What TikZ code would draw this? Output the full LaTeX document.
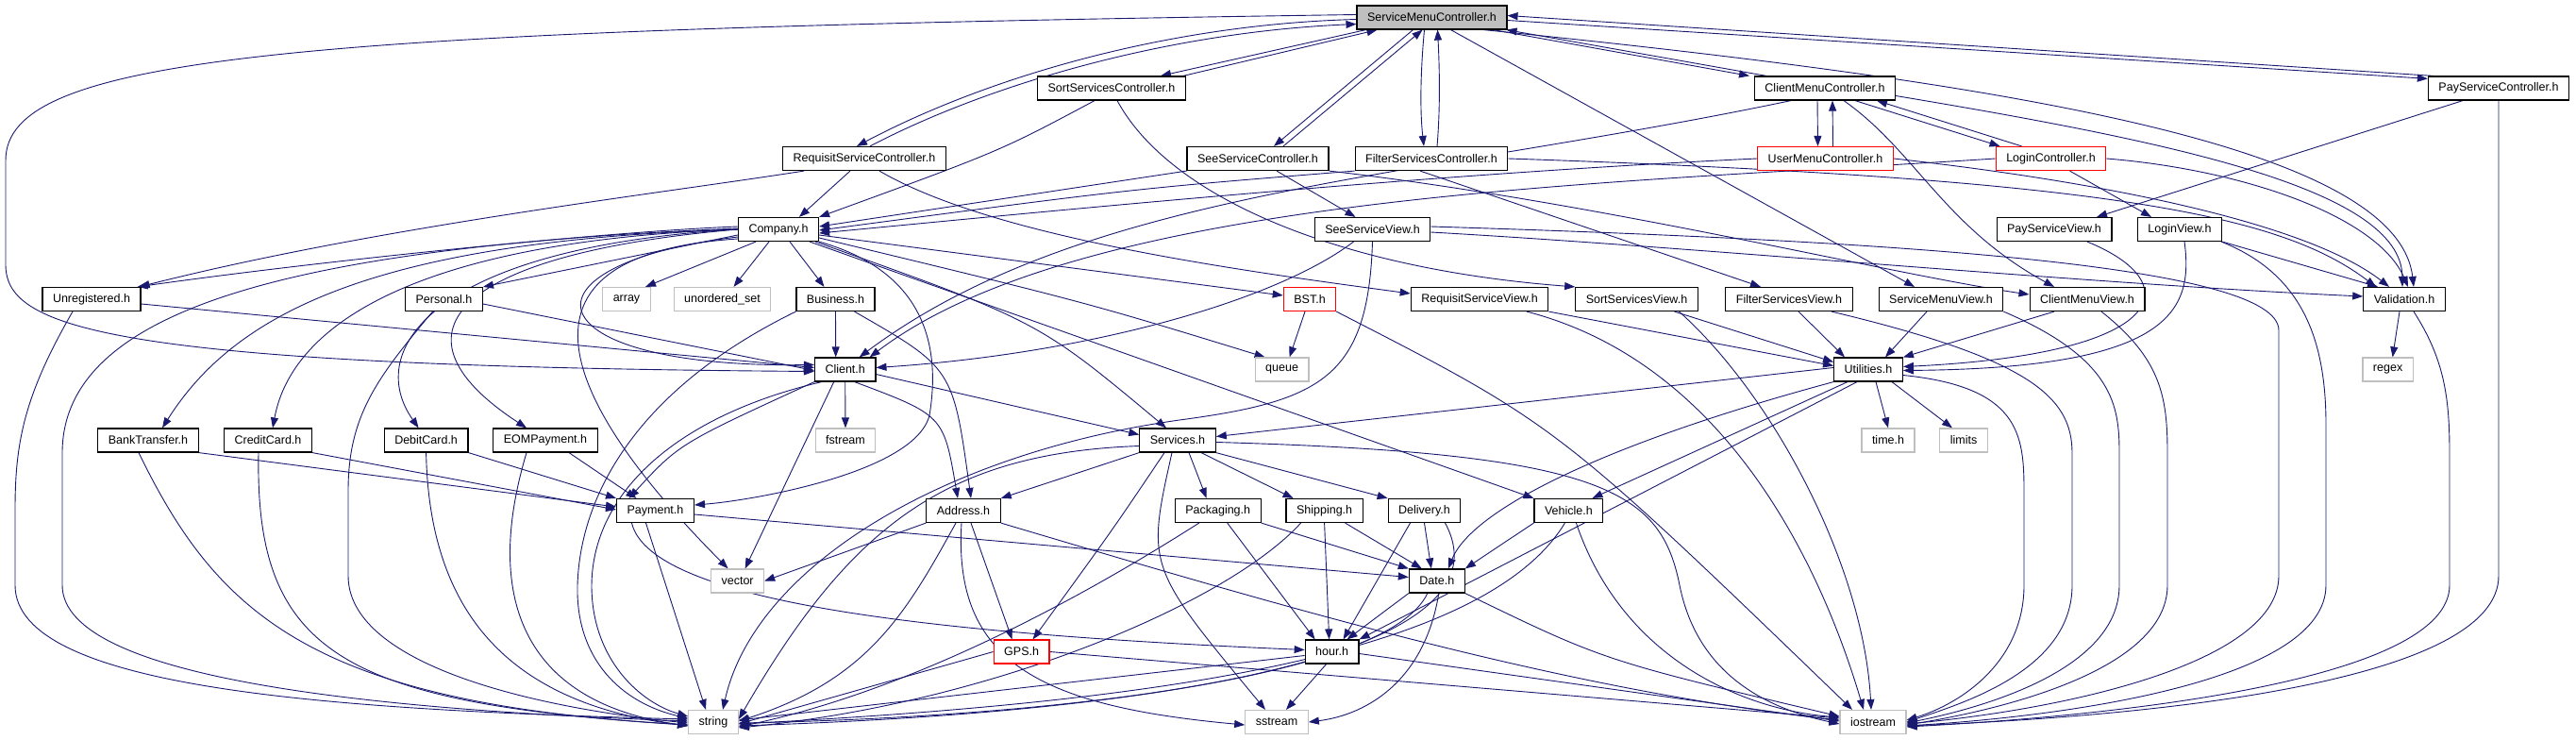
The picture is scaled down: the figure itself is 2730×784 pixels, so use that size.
\documentclass[tikz,border=0pt]{standalone}
\usepackage{fontspec}
\setmainfont{Liberation Sans}
\usepackage{xcolor}
\usepackage{tikz}
\usetikzlibrary{arrows.meta}
\definecolor{depblue}{HTML}{191970}
\definecolor{sysgray}{HTML}{BFBFBF}
\definecolor{mainfill}{HTML}{BFBFBF}
\definecolor{badred}{HTML}{FF0000}
\pgfdeclarelayer{edges}
\pgfsetlayers{edges,main}
\tikzset{
  hfile/.style={draw=black, line width=1.2pt, fill=white, minimum height=25pt,
                inner xsep=11pt, inner ysep=0pt, font=\fontsize{12.5}{14}\selectfont},
  sysfile/.style={hfile, draw=sysgray},
  badfile/.style={hfile, draw=badred},
  mainfile/.style={hfile, fill=mainfill},
  dep/.style={draw=depblue, line width=0.9pt, -{Triangle[length=11pt, width=8pt]}},
}

\begin{document}
\begin{tikzpicture}[x=1pt, y=-1pt]
  \useasboundingbox (0,0) rectangle (2730,784);
  % controllers
  \node[mainfile] (smc) at (1517.5,18.5) {ServiceMenuController.h};
  \node[hfile] (sortsc) at (1178,93.5) {SortServicesController.h};
  \node[hfile] (clientmc) at (1934,93.5) {ClientMenuController.h};
  \node[hfile] (paysc) at (2648,93.5) {PayServiceController.h};
  \node[hfile] (reqsc) at (916,168) {RequisitServiceController.h};
  \node[hfile] (seesc) at (1333,168) {SeeServiceController.h};
  \node[hfile] (filtersc) at (1517,168) {FilterServicesController.h};
  \node[badfile] (usermc) at (1934.5,168) {UserMenuController.h};
  \node[badfile] (loginc) at (2173.5,168) {LoginController.h};
  % views and model
  \node[hfile] (company) at (825,243) {Company.h};
  \node[hfile] (seesv) at (1454.5,243) {SeeServiceView.h};
  \node[hfile] (paysv) at (2177,243) {PayServiceView.h};
  \node[hfile] (loginv) at (2310,243) {LoginView.h};
  \node[hfile] (unreg) at (97,317) {Unregistered.h};
  \node[hfile] (personal) at (470.5,317) {Personal.h};
  \node[sysfile] (array) at (664,317) {array};
  \node[sysfile] (uset) at (765.5,317) {unordered\_set};
  \node[hfile] (business) at (885.5,317) {Business.h};
  \node[badfile] (bst) at (1388,317) {BST.h};
  \node[hfile] (reqsv) at (1568,317) {RequisitServiceView.h};
  \node[hfile] (sortsv) at (1734.5,317) {SortServicesView.h};
  \node[hfile] (filtersv) at (1896,317) {FilterServicesView.h};
  \node[hfile] (smv) at (2057,317) {ServiceMenuView.h};
  \node[hfile] (clientmv) at (2212,317) {ClientMenuView.h};
  \node[hfile] (valid) at (2548,317) {Validation.h};
  \node[hfile] (client) at (895.7,391.5) {Client.h};
  \node[sysfile] (queue) at (1358.6,391.5) {queue};
  \node[hfile] (util) at (1980,391.5) {Utilities.h};
  \node[sysfile] (regex) at (2530.6,391.5) {regex};
  \node[hfile] (bank) at (157,466.5) {BankTransfer.h};
  \node[hfile] (credit) at (284,466.5) {CreditCard.h};
  \node[hfile] (debit) at (451.6,466.5) {DebitCard.h};
  \node[hfile] (eom) at (578,466.5) {EOMPayment.h};
  \node[sysfile] (fstream) at (896,466.5) {fstream};
  \node[hfile] (services) at (1248,466.5) {Services.h};
  \node[sysfile] (timeh) at (2001,466.5) {time.h};
  \node[sysfile] (limits) at (2081,466.5) {limits};
  \node[hfile] (payment) at (694.5,541) {Payment.h};
  \node[hfile] (address) at (1021,541) {Address.h};
  \node[hfile] (packaging) at (1290.7,541) {Packaging.h};
  \node[hfile] (shipping) at (1403.6,541) {Shipping.h};
  \node[hfile] (delivery) at (1509.5,541) {Delivery.h};
  \node[hfile] (vehicle) at (1662.4,541) {Vehicle.h};
  \node[sysfile] (vector) at (781.6,615.5) {vector};
  \node[hfile] (date) at (1522.8,615.5) {Date.h};
  \node[badfile] (gps) at (1082.6,690.5) {GPS.h};
  \node[hfile] (hour) at (1411.6,690.5) {hour.h};
  \node[sysfile] (string) at (756,765) {string};
  \node[sysfile] (sstream) at (1353,765) {sstream};
  \node[sysfile] (iostream) at (1985,765) {iostream};

  \begin{pgfonlayer}{edges}
  % ServiceMenuController.h
  \draw[dep] ([yshift=3pt]smc.west) .. controls (300,32) and (6,60) .. (6,170) -- (6,280) .. controls (6,345) and (100,388) .. ([yshift=-2pt]client.west);
  \draw[dep] ([xshift=-70pt]smc.south) -- ([xshift=52pt]sortsc.north);
  \draw[dep] ([xshift=76pt]sortsc.north) -- ([xshift=-58pt]smc.south);
  \draw[dep] ([yshift=-2pt]smc.west) .. controls (1230,26) and (1040,85) .. ([xshift=-8pt]reqsc.north);
  \draw[dep] ([xshift=6pt]reqsc.north) .. controls (1050,88) and (1240,34) .. ([yshift=-7pt]smc.west);
  \draw[dep] ([xshift=-20pt]smc.south) -- ([xshift=17pt]seesc.north);
  \draw[dep] ([xshift=27pt]seesc.north) -- ([xshift=-10pt]smc.south);
  \draw[dep] ([xshift=-8pt]smc.south) .. controls (1505,80) and (1505,120) .. ([xshift=-8pt]filtersc.north);
  \draw[dep] ([xshift=6pt]filtersc.north) .. controls (1526,120) and (1526,80) .. ([xshift=6pt]smc.south);
  \draw[dep] ([xshift=65pt]smc.south) -- ([xshift=-80pt]clientmc.north);
  \draw[dep] ([xshift=-62pt]clientmc.north) -- ([xshift=79pt]smc.south);
  \draw[dep] ([yshift=-3pt]smc.east) -- ([yshift=-3pt]paysc.north west);
  \draw[dep] ([xshift=6pt]paysc.north west) -- ([yshift=2pt]smc.east);
  \draw[dep] ([xshift=20pt]smc.south) -- ([xshift=-28pt]smv.north);
  \draw[dep] ([xshift=55pt]smc.south) .. controls (2100,85) and (2540,150) .. ([xshift=10pt]valid.north);
  % controllers of the service menu
  \draw[dep] ([xshift=-18pt]sortsc.south) .. controls (1060,160) .. (company.north east);
  \draw[dep] ([xshift=6pt]sortsc.south) .. controls (1240,210) and (1420,285) .. (sortsv.north west);
  \draw[dep] ([xshift=-15pt]reqsc.south) -- ([xshift=22pt]company.north);
  \draw[dep] ([xshift=-64pt]reqsc.south) .. controls (700,205) and (400,240) .. ([xshift=-2pt]unreg.north east);
  \draw[dep] ([xshift=16pt]reqsc.south) .. controls (1050,250) and (1300,285) .. ([yshift=6pt]reqsv.west);
  \draw[dep] (seesc.south west) -- ([yshift=3pt]company.east);
  \draw[dep] ([xshift=20pt]seesc.south) -- ([xshift=-18pt]seesv.north);
  \draw[dep] (seesc.south east) .. controls (1700,215) and (2000,290) .. ([yshift=5pt]clientmv.west);
  \draw[dep] (filtersc.south west) .. controls (1200,200) .. ([yshift=-1pt]company.east);
  \draw[dep] ([xshift=-12pt]filtersc.south) -- ([xshift=-30pt]filtersv.north);
  \draw[dep] (filtersc.east) .. controls (2250,190) and (2420,230) .. ([xshift=-30pt]valid.north);
  % client menu
  \draw[dep] ([xshift=-36pt]clientmc.south) .. controls (1500,190) and (1150,200) .. ([xshift=15pt]client.north);
  \draw[dep] ([xshift=-8pt]clientmc.south) -- ([xshift=-8pt]usermc.north);
  \draw[dep] ([xshift=8pt]usermc.north) -- ([xshift=8pt]clientmc.south);
  \draw[dep] ([xshift=32pt]clientmc.south) -- ([xshift=-54pt]loginc.north);
  \draw[dep] ([xshift=-31pt]loginc.north) -- ([xshift=55pt]clientmc.south);
  \draw[dep] ([xshift=20pt]clientmc.south) .. controls (2030,160) and (2060,240) .. ([xshift=-35pt]clientmv.north);
  \draw[dep] ([yshift=-8pt]clientmc.east) .. controls (2300,150) and (2545,200) .. ([xshift=-2pt]valid.north);
  \draw[dep] (usermc.west) .. controls (1500,185) and (1100,225) .. ([yshift=-4pt]company.east);
  \draw[dep] (usermc.east) .. controls (2250,195) and (2450,240) .. ([xshift=-16pt]valid.north);
  \draw[dep] ([xshift=20pt]loginc.south) -- ([xshift=-30pt]loginv.north);
  \draw[dep] (loginc.east) .. controls (2380,180) and (2520,230) .. ([xshift=4pt]valid.north);
  \draw[dep] (loginc.west) .. controls (1700,195) and (1150,205) .. ([xshift=26pt]client.north);
  \draw[dep] ([xshift=-38pt]paysc.south) -- ([xshift=45pt]paysv.north);
  \draw[dep] (paysc.south) -- (2648,610) .. controls (2648,720) and (2300,758) .. ([yshift=-4pt]iostream.east);
  % views
  \draw[dep] ([xshift=-20pt]seesv.south) .. controls (1350,320) and (1150,375) .. ([yshift=2pt]client.east);
  \draw[dep] (seesv.south) .. controls (1450,400) and (1400,425) .. (1250,445) .. controls (1000,480) and (800,600) .. ([xshift=10pt]string.north);
  \draw[dep] ([yshift=-3pt]seesv.east) .. controls (1800,262) and (2200,300) .. ([yshift=3pt]valid.west);
  \draw[dep] ([yshift=3pt]seesv.east) .. controls (2000,255) and (2415,280) .. (2415,350) -- (2415,610) .. controls (2415,700) and (2200,750) .. ([yshift=-2pt]iostream.east);
  \draw[dep] (reqsv.south east) -- ([yshift=4pt]util.west);
  \draw[dep] ([xshift=50pt]reqsv.south) .. controls (1830,385) and (1930,600) .. ([xshift=-10pt]iostream.north);
  \draw[dep] ([xshift=40pt]sortsv.south) -- ([yshift=8pt]util.west);
  \draw[dep] ([xshift=45pt]sortsv.south) .. controls (1880,420) and (1975,600) .. ([xshift=-2pt]iostream.north);
  \draw[dep] ([xshift=10pt]filtersv.south) -- ([xshift=-25pt]util.north);
  \draw[dep] ([xshift=45pt]filtersv.south) .. controls (2150,380) and (2196,420) .. (2196,480) -- (2196,620) .. controls (2196,710) and (2080,745) .. (iostream.east);
  \draw[dep] ([xshift=-15pt]smv.south) -- ([xshift=18pt]util.north);
  \draw[dep] (smv.south east) .. controls (2240,380) and (2246,430) .. (2246,480) -- (2246,620) .. controls (2246,710) and (2100,750) .. ([yshift=-1pt]iostream.east);
  \draw[dep] ([xshift=-35pt]clientmv.south) -- (util.north east);
  \draw[dep] ([xshift=15pt]clientmv.south) .. controls (2290,380) and (2297,420) .. (2297,480) -- (2297,620) .. controls (2297,710) and (2120,752) .. ([yshift=-3pt]iostream.east);
  \draw[dep] ([xshift=35pt]paysv.south) .. controls (2320,300) and (2300,375) .. ([yshift=3pt]util.east);
  \draw[dep] ([xshift=5pt]loginv.south) .. controls (2325,330) and (2300,390) .. ([yshift=-1pt]util.east);
  \draw[dep] (loginv.south east) -- ([xshift=-28pt]valid.north);
  \draw[dep] ([xshift=44pt]loginv.south) .. controls (2440,290) and (2465,360) .. (2465,450) -- (2465,620) .. controls (2465,720) and (2200,758) .. ([yshift=-4pt]iostream.east);
  \draw[dep] ([xshift=-5pt]valid.south) -- ([xshift=5pt]regex.north);
  \draw[dep] ([xshift=10pt]valid.south) .. controls (2590,380) and (2596,420) .. (2596,480) -- (2596,620) .. controls (2596,720) and (2250,758) .. ([yshift=-5pt]iostream.east);
  % Utilities.h
  \draw[dep] ([yshift=2pt]util.west) -- ([yshift=4pt]services.east);
  \draw[dep] (util.south west) .. controls (1700,470) and (1560,540) .. ([xshift=12pt]date.north);
  \draw[dep] ([xshift=-22pt]util.south) -- ([xshift=25pt]vehicle.north);
  \draw[dep] ([xshift=-12pt]util.south) -- (hour.north east);
  \draw[dep] ([xshift=8pt]util.south) -- (timeh.north);
  \draw[dep] ([xshift=25pt]util.south) -- ([xshift=-12pt]limits.north);
  \draw[dep] ([yshift=-6pt]util.east) .. controls (2140,410) and (2145,460) .. (2145,520) -- (2145,620) .. controls (2145,700) and (2080,745) .. ([yshift=2pt]iostream.east);
  % Company.h
  \draw[dep] ([yshift=3pt]company.west) .. controls (650,245) and (350,275) .. ([xshift=-4pt]unreg.north east);
  \draw[dep] ([yshift=-6pt]company.west) -- (personal.north east);
  \draw[dep] ([xshift=-24pt]company.south) -- ([xshift=20pt]array.north);
  \draw[dep] ([xshift=-10pt]company.south) -- ([xshift=12pt]uset.north);
  \draw[dep] ([xshift=12pt]company.south) -- ([xshift=-12pt]business.north);
  \draw[dep] ([yshift=-8pt]company.west) .. controls (540,280) and (560,390) .. ([yshift=5pt]client.west);
  \draw[dep] (company.west) .. controls (400,255) and (250,330) .. ([xshift=15pt]bank.north);
  \draw[dep] (company.west) .. controls (450,255) and (310,340) .. ([xshift=5pt]credit.north);
  \draw[dep] (company.west) .. controls (460,262) and (385,370) .. ([xshift=-8pt]debit.north);
  \draw[dep] (company.west) .. controls (490,268) and (400,350) .. ([xshift=-20pt]eom.north);
  \draw[dep] ([yshift=1pt]company.west) .. controls (300,262) and (66,330) .. (66,480) -- (66,620) .. controls (66,720) and (400,752) .. ([yshift=1pt]string.west);
  \draw[dep] (company.south east) .. controls (990,290) and (995,380) .. (985,440) .. controls (970,500) and (800,530) .. ([yshift=6pt]payment.east);
  \draw[dep] ([yshift=-10pt]company.west) .. controls (520,270) and (600,430) .. ([xshift=-10pt]vector.north);
  \draw[dep] ([yshift=-6pt]company.east) -- ([yshift=4pt]bst.west);
  \draw[dep] ([yshift=-9pt]company.east) .. controls (1150,320) .. ([xshift=-18pt]queue.north);
  \draw[dep] ([xshift=-4pt]company.south east) .. controls (1100,340) .. ([xshift=-12pt]services.north);
  \draw[dep] ([xshift=-10pt]company.south east) -- (vehicle.north west);
  % Unregistered.h, Personal.h, Business.h
  \draw[dep] ([yshift=-5pt]unreg.east) -- ([yshift=2pt]client.west);
  \draw[dep] ([xshift=-20pt]unreg.south) .. controls (25,420) and (16,470) .. (16,540) -- (16,620) .. controls (16,730) and (350,752) .. ([yshift=3pt]string.west);
  \draw[dep] ([yshift=-5pt]personal.east) -- ([yshift=-1pt]client.west);
  \draw[dep] ([xshift=-12pt]personal.south) .. controls (400,400) and (369,440) .. (369,520) -- (369,610) .. controls (369,700) and (550,748) .. ([yshift=-1pt]string.west);
  \draw[dep] (business.south) -- ([xshift=-10pt]client.north);
  \draw[dep] ([xshift=20pt]business.south) .. controls (1010,390) .. ([xshift=8pt]address.north);
  \draw[dep] (business.south west) .. controls (680,410) and (615,520) .. (612,620) .. controls (610,700) and (660,745) .. ([yshift=4pt]string.west);
  % Client.h
  \draw[dep] (client.south) -- (fstream.north);
  \draw[dep] ([xshift=-12pt]client.south) -- ([xshift=8pt]vector.north);
  \draw[dep] (client.south west) .. controls (720,470) .. ([xshift=-28pt]payment.north);
  \draw[dep] ([xshift=10pt]client.south) .. controls (1000,440) .. ([xshift=-6pt]address.north);
  \draw[dep] ([yshift=-5pt]client.east) -- ([yshift=6pt]services.west);
  \draw[dep] ([xshift=-25pt]client.south) .. controls (720,440) and (628,520) .. (627,620) .. controls (627,700) and (680,745) .. ([yshift=6pt]string.west);
  % payment kinds
  \draw[dep] (bank.south east) -- ([yshift=4pt]payment.west);
  \draw[dep] (credit.south east) -- ([yshift=1pt]payment.west);
  \draw[dep] (debit.south east) -- (payment.north west);
  \draw[dep] ([xshift=25pt]eom.south) -- ([xshift=-20pt]payment.north);
  \draw[dep] ([xshift=-10pt]bank.south) .. controls (230,650) and (330,745) .. ([yshift=-3pt]string.west);
  \draw[dep] ([xshift=-10pt]credit.south) .. controls (270,690) and (360,745) .. ([yshift=-3pt]string.west);
  \draw[dep] (debit.south) .. controls (455,650) and (540,745) .. ([yshift=-4pt]string.west);
  \draw[dep] ([xshift=-20pt]eom.south) .. controls (510,640) and (560,745) .. ([yshift=-4pt]string.west);
  % Payment.h
  \draw[dep] ([xshift=-10pt]payment.south) -- ([xshift=-8pt]string.north);
  \draw[dep] ([yshift=-4pt]payment.east) -- ([yshift=4pt]date.west);
  \draw[dep] ([xshift=-25pt]payment.south) .. controls (690,640) and (1000,672) .. ([yshift=2pt]hour.west);
  % Services.h
  \draw[dep] (services.south west) -- (address.north east);
  \draw[dep] ([xshift=-14pt]services.south) .. controls (1180,560) .. ([xshift=12pt]gps.north);
  \draw[dep] ([xshift=12pt]services.south) -- ([xshift=-12pt]packaging.north);
  \draw[dep] ([xshift=25pt]services.south) -- ([xshift=-33pt]shipping.north);
  \draw[dep] (services.south east) -- (delivery.north west);
  \draw[dep] ([yshift=-6pt]services.west) .. controls (1000,480) and (900,560) .. ([yshift=3pt]string.east);
  \draw[dep] ([xshift=-6pt]services.south) .. controls (1215,600) .. ([xshift=-12pt]sstream.north);
  \draw[dep] ([yshift=-2pt]services.east) .. controls (1700,480) and (1760,520) .. (1780,620) .. controls (1800,720) and (1880,752) .. ([yshift=-2pt]iostream.west);
  % Address.h, GPS.h
  \draw[dep] (address.south west) -- (vector.east);
  \draw[dep] ([xshift=8pt]address.south) -- ([xshift=-10pt]gps.north);
  \draw[dep] ([xshift=-8pt]address.south) .. controls (960,650) and (920,720) .. ([yshift=1pt]string.east);
  \draw[dep] ([xshift=-2pt]address.south) .. controls (1010,700) and (1100,748) .. ([yshift=-3pt]sstream.west);
  \draw[dep] (address.south east) .. controls (1350,640) and (1650,730) .. ([yshift=2pt]iostream.west);
  \draw[dep] (gps.west) -- ([yshift=-2pt]string.east);
  \draw[dep] (gps.east) -- ([yshift=4pt]iostream.west);
  % Packaging.h, Shipping.h, Delivery.h, Vehicle.h
  \draw[dep] ([xshift=-20pt]packaging.south) .. controls (1120,650) and (950,735) .. ([yshift=-5pt]string.east);
  \draw[dep] ([xshift=10pt]packaging.south) -- ([xshift=-18pt]hour.north);
  \draw[dep] (packaging.south east) -- (date.north west);
  \draw[dep] (shipping.south) -- ([xshift=-3pt]hour.north);
  \draw[dep] ([xshift=22pt]shipping.south) -- ([xshift=-16pt]date.north);
  \draw[dep] ([xshift=-25pt]shipping.south) .. controls (1300,640) and (1050,745) .. ([yshift=-6pt]string.east);
  \draw[dep] (delivery.south) -- ([xshift=-6pt]date.north);
  \draw[dep] ([xshift=-15pt]delivery.south) -- ([xshift=12pt]hour.north);
  \draw[dep] ([xshift=22pt]delivery.south) .. controls (1600,680) and (1300,752) .. ([yshift=-4pt]string.east);
  \draw[dep] (vehicle.south west) -- (date.north east);
  \draw[dep] ([xshift=-4pt]vehicle.south) .. controls (1570,700) and (1200,745) .. ([yshift=-2pt]string.east);
  \draw[dep] ([xshift=8pt]vehicle.south) .. controls (1720,700) and (1850,752) .. ([yshift=5pt]iostream.west);
  % Date.h, hour.h, BST.h
  \draw[dep] (date.south west) -- ([xshift=16pt]hour.north);
  \draw[dep] ([xshift=-10pt]date.south) .. controls (1470,720) and (1100,760) .. ([yshift=-1pt]string.east);
  \draw[dep] ([xshift=2pt]date.south) .. controls (1510,720) and (1450,757) .. (sstream.east);
  \draw[dep] (date.south east) .. controls (1700,700) .. ([yshift=6pt]iostream.west);
  \draw[dep] ([xshift=-6pt]hour.south) -- ([xshift=10pt]sstream.north);
  \draw[dep] ([yshift=-4pt]hour.west) -- ([yshift=2pt]string.east);
  \draw[dep] ([yshift=-2pt]hour.east) -- ([yshift=1pt]iostream.west);
  \draw[dep] ([xshift=-5pt]bst.south) -- ([xshift=8pt]queue.north);
  \draw[dep] (bst.south east) .. controls (1650,450) .. ([xshift=-22pt]iostream.north);
  \end{pgfonlayer}
\end{tikzpicture}
\end{document}
